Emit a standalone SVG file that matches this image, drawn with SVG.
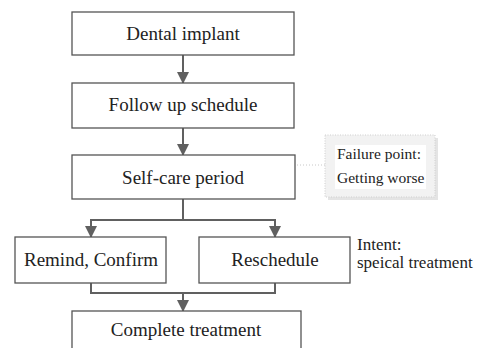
<svg xmlns="http://www.w3.org/2000/svg" width="482" height="348" viewBox="0 0 482 348">
<style>
.box{fill:#fff;stroke:#555;stroke-width:1.3}
.t{font-family:'Liberation Serif','Tinos','Times New Roman','DejaVu Serif',serif;font-size:19px;fill:#222;text-anchor:middle}
.n{font-family:'Liberation Serif','Tinos','Times New Roman','DejaVu Serif',serif;fill:#222}
.c{fill:none;stroke:#606060;stroke-width:2}
</style>
<defs>
<marker id="ah" markerWidth="12" markerHeight="12" refX="11" refY="6" orient="auto" markerUnits="userSpaceOnUse">
<path d="M0,0 L12,6 L0,12 z" fill="#606060"/>
</marker>
</defs>
<rect width="482" height="348" fill="#fff"/>
<g id="connectors">
<line class="c" x1="183" y1="55" x2="183" y2="83" marker-end="url(#ah)"/>
<line class="c" x1="183" y1="128" x2="183" y2="155" marker-end="url(#ah)"/>
<polyline class="c" points="183,199 183,220"/>
<polyline class="c" points="91,237 91,220 275,220 275,237" marker-end="url(#ah)"/>
<line class="c" x1="91" y1="220" x2="91" y2="237" marker-end="url(#ah)"/>
<polyline class="c" points="91,283 91,293 275,293 275,283"/>
<line class="c" x1="183" y1="293" x2="183" y2="311" marker-end="url(#ah)"/>
<line x1="183" y1="165" x2="325" y2="165" stroke="#c8c8c8" stroke-width="1" stroke-dasharray="1,2"/>
</g>
<g id="dental-implant"><rect class="box" x="72" y="12" width="222" height="43"/><text class="t" x="183" y="40" font-family="Liberation Serif, serif">Dental implant</text></g>
<g id="follow-up"><rect class="box" x="72" y="83" width="222" height="45"/><text class="t" x="183" y="111" font-family="Liberation Serif, serif">Follow up schedule</text></g>
<g id="self-care"><rect class="box" x="72" y="155" width="223" height="44"/><text class="t" x="183" y="184" font-family="Liberation Serif, serif">Self-care period</text></g>
<g id="remind"><rect class="box" x="15" y="237" width="151" height="46"/><text class="t" x="91" y="266" font-family="Liberation Serif, serif">Remind, Confirm</text></g>
<g id="reschedule"><rect class="box" x="199" y="237" width="151" height="46"/><text class="t" x="275" y="266" font-family="Liberation Serif, serif">Reschedule</text></g>
<g id="complete"><rect class="box" x="72" y="311" width="229" height="45"/><text class="t" x="186" y="336" font-family="Liberation Serif, serif">Complete treatment</text></g>
<g id="failure-note">
<rect x="328" y="138" width="110" height="62" fill="#e4e4e4"/>
<rect x="325" y="135" width="110" height="62" fill="#f2f2f2" stroke="#cfcfcf" stroke-width="1" stroke-dasharray="1,1.5"/>
<rect x="335" y="145" width="91" height="44" fill="#fff"/>
<text class="n" x="337" y="159" font-size="15.5" font-family="Liberation Serif, serif">Failure point:</text>
<text class="n" x="337" y="183" font-size="15.5" font-family="Liberation Serif, serif">Getting worse</text>
</g>
<g id="intent-note">
<text class="n" x="357" y="250" font-size="17" font-family="Liberation Serif, serif">Intent:</text>
<text class="n" x="357" y="268" font-size="17" font-family="Liberation Serif, serif">speical treatment</text>
</g>
</svg>
